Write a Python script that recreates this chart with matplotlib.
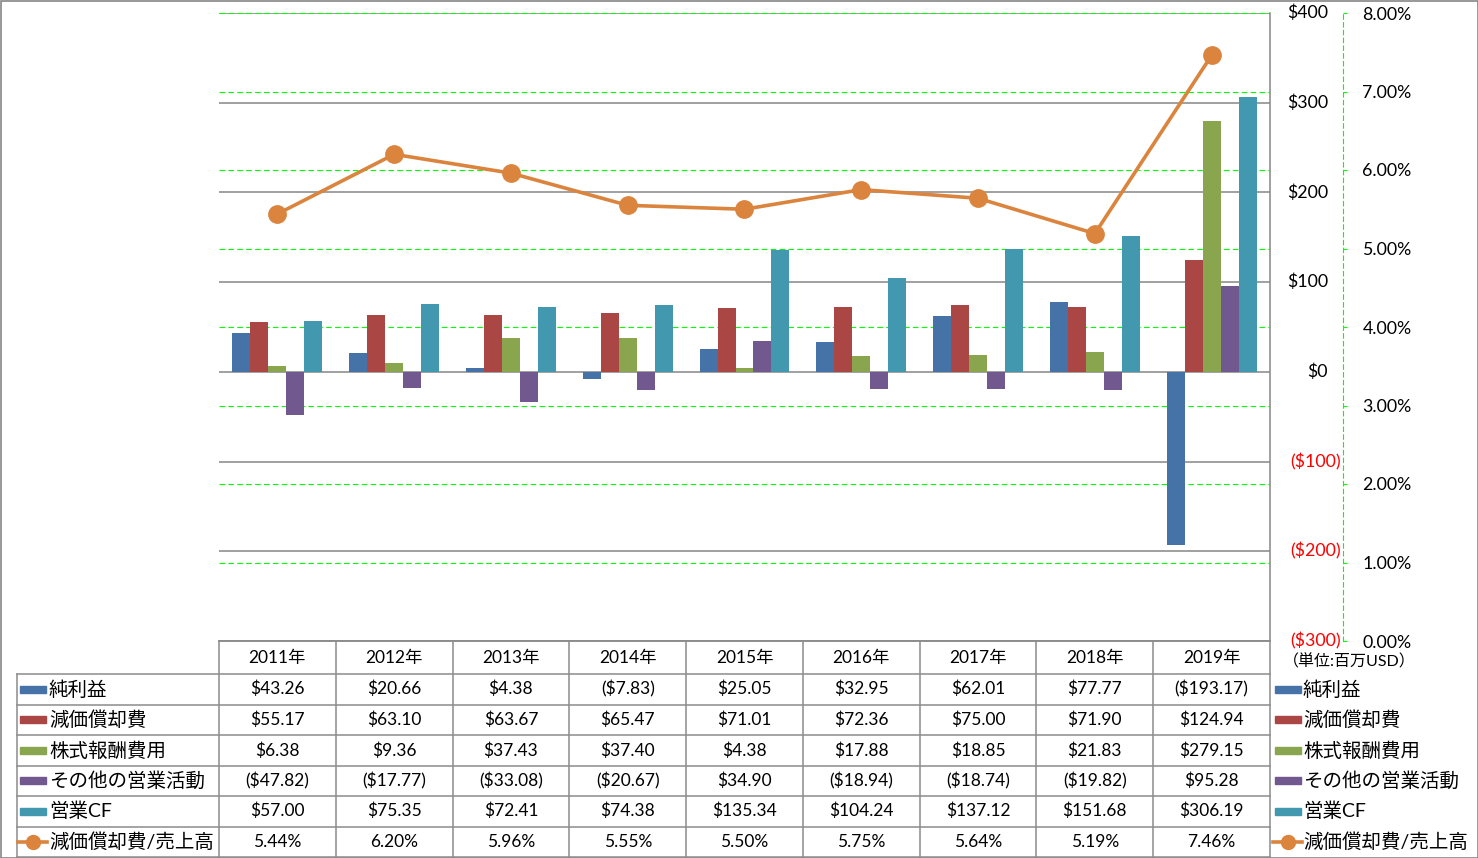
import matplotlib.pyplot as plt
import matplotlib.transforms as mtransforms
from matplotlib.patches import Rectangle
from matplotlib.lines import Line2D

plt.rcParams["font.family"] = ["Lato", "Noto Sans CJK JP", "DejaVu Sans"]

# Data (millions USD)
years = ["2011年", "2012年", "2013年", "2014年", "2015年", "2016年", "2017年", "2018年", "2019年"]
net_income = [43.26, 20.66, 4.38, -7.83, 25.05, 32.95, 62.01, 77.77, -193.17]
depreciation = [55.17, 63.10, 63.67, 65.47, 71.01, 72.36, 75.00, 71.90, 124.94]
stock_comp = [6.38, 9.36, 37.43, 37.40, 4.38, 17.88, 18.85, 21.83, 279.15]
other_ops = [-47.82, -17.77, -33.08, -20.67, 34.90, -18.94, -18.74, -19.82, 95.28]
operating_cf = [57.00, 75.35, 72.41, 74.38, 135.34, 104.24, 137.12, 151.68, 306.19]
dep_ratio = [5.44, 6.20, 5.96, 5.55, 5.50, 5.75, 5.64, 5.19, 7.46]

bar_names = ["純利益", "減価償却費", "株式報酬費用", "その他の営業活動", "営業CF"]
bar_colors = ["#4572A7", "#AA4643", "#89A54E", "#71588F", "#4198AF"]
line_name = "減価償却費/売上高"
line_color = "#DB843D"

dollar_ticks = [-300, -200, -100, 0, 100, 200, 300, 400]
pct_ticks = [0, 1, 2, 3, 4, 5, 6, 7, 8]

W, H = 1478, 858
GRID = "#868686"


def money(v):
    return f"${v:,.2f}" if v >= 0 else f"(${-v:,.2f})"


def main():
    fig = plt.figure(figsize=(W / 100, H / 100), dpi=100)

    # plot area in pixels: x 219..1270, y 13..641
    left, right, top, bottom = 219, 1270, 13, 641
    ax = fig.add_axes([left / W, 1 - bottom / H, (right - left) / W, (bottom - top) / H])
    ax2 = ax.twinx()

    n = len(years)
    x = list(range(n))
    width = 18 / 116.8
    series = [net_income, depreciation, stock_comp, other_ops, operating_cf]
    for k, (vals, color) in enumerate(zip(series, bar_colors)):
        ax.bar([i + (k - 2) * width for i in x], vals, width=width, color=color, zorder=2)

    ax.set_xlim(-0.5, n - 0.5)
    ax.set_ylim(-300, 400)
    ax.set_yticks(dollar_ticks)
    ax.set_xticks([])
    ax.yaxis.grid(True, color=GRID, linewidth=1.1)
    ax.set_axisbelow(True)
    ax.tick_params(left=False, right=False, labelleft=False, labelright=False)
    for s in ["left", "top"]:
        ax.spines[s].set_visible(False)
    ax.spines["right"].set_color(GRID)
    ax.spines["bottom"].set_color(GRID)
    ax.spines["right"].set_linewidth(1.1)
    ax.spines["bottom"].set_linewidth(1.1)

    # green dashed percent gridlines, behind the bars
    ax.hlines(pct_ticks[1:], -0.5, n - 0.5, transform=ax2.transData, colors="#00FF00",
              linestyles=(0, (5, 3)), linewidth=0.8, zorder=0.6)

    # dollar labels, right aligned with parenthesis hanging
    tr = mtransforms.blended_transform_factory(fig.transFigure, ax.transData)
    for v in dollar_ticks:
        if v < 0:
            ax.text(1341 / W, v, f"(${-v})", transform=tr, ha="right", va="center",
                    fontsize=12.8, color="#FF0000", clip_on=False)
        else:
            ax.text(1328 / W, v, f"${v}", transform=tr, ha="right", va="center",
                    fontsize=12.8, color="black", clip_on=False)

    # secondary axis
    ax2.plot(x, dep_ratio, color=line_color, linewidth=2.6, marker="o", markersize=12.5, zorder=3)
    ax2.set_ylim(0, 8)
    ax2.set_yticks(pct_ticks)
    ax2.set_yticklabels([f"{v:.2f}%" for v in pct_ticks])
    for s in ["left", "top", "bottom"]:
        ax2.spines[s].set_visible(False)
    ax2.spines["right"].set_position(("outward", 73 * 0.72))
    ax2.spines["right"].set_color("#00FF00")
    ax2.spines["right"].set_linestyle((0, (4, 3)))
    ax2.spines["right"].set_linewidth(0.8)
    ax2.tick_params(axis="y", colors="#00FF00", length=3, width=0.8, pad=11,
                    labelcolor="black", labelsize=12.8)

    # overlay for table, legends, border
    ov = fig.add_axes([0, 0, 1, 1], zorder=5)
    ov.set_xlim(0, W)
    ov.set_ylim(H, 0)
    ov.axis("off")

    col_w = (right - left) / n
    row_edges = [641, 674, 704.5, 735, 765.5, 796, 826.5, 857]
    tl = dict(color="#8C8C8C", linewidth=1.1)

    # vertical lines
    for i in range(n + 1):
        ov.add_line(Line2D([left + i * col_w] * 2, [row_edges[0], row_edges[-1]], **tl))
    ov.add_line(Line2D([17, 17], [row_edges[1], row_edges[-1]], **tl))
    # horizontal lines
    ov.add_line(Line2D([left, right], [row_edges[0]] * 2, **tl))
    for y in row_edges[1:]:
        ov.add_line(Line2D([17, right], [y, y], **tl))

    # header
    hy = (row_edges[0] + row_edges[1]) / 2
    for i, yr in enumerate(years):
        ov.text(left + (i + 0.5) * col_w, hy, yr, ha="center", va="center", fontsize=12.5)

    rows = [[money(v) for v in s] for s in series] + [[f"{v:.2f}%" for v in dep_ratio]]
    names = bar_names + [line_name]
    for r, (name, vals) in enumerate(zip(names, rows)):
        cy = (row_edges[r + 1] + row_edges[r + 2]) / 2
        for i, t in enumerate(vals):
            ov.text(left + (i + 0.5) * col_w, cy, t, ha="center", va="center", fontsize=12.5)
        for kx, tx in [(20, 49), (1275, 1303)]:
            if r < len(bar_names):
                ov.add_patch(Rectangle((kx, cy - 3.5), 26, 7, color=bar_colors[r]))
            else:
                ov.add_line(Line2D([kx - 2, kx + 27], [cy, cy], color=line_color, linewidth=2.6))
                ov.plot([kx + 12.5], [cy], "o", color=line_color, markersize=10)
            ov.text(tx, cy, name, ha="left", va="center", fontsize=14)

    ov.text(1283, 662, "（単位:百万USD）", ha="left", va="center", fontsize=11.5)

    # outer border
    ov.add_patch(Rectangle((0.5, 0.5), W - 1, H - 1, fill=False, edgecolor="#868686", linewidth=1.2))

    fig.savefig("out.png", dpi=100)


if __name__ == "__main__":
    main()
